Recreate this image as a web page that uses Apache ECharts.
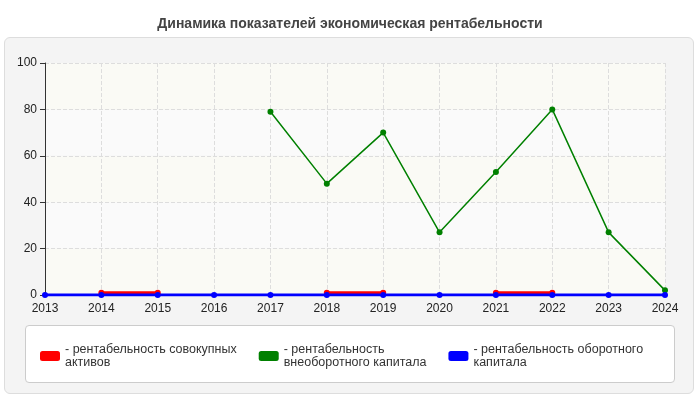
<!DOCTYPE html>
<html>
<head>
<meta charset="utf-8">
<script src="https://cdn.jsdelivr.net/npm/echarts@6/dist/echarts.min.js"></script>
<style>
  body { margin: 0; background: #fff; }
  #panel { position: absolute; left: 4px; top: 37px; width: 688px; height: 355px; background: #f4f4f4; border: 1px solid #ddd; border-radius: 6px; }
  #legbox { position: absolute; left: 25px; top: 325px; width: 648px; height: 56px; background: #fff; border: 1px solid #ccc; border-radius: 4px; }
  #chart { position: absolute; left: 0; top: 0; width: 700px; height: 400px; }
</style>
</head>
<body>
<div id="panel"></div>
<div id="legbox"></div>
<div id="chart"></div>
<script>
var years = ['2013','2014','2015','2016','2017','2018','2019','2020','2021','2022','2023','2024'];
var totalAssets = [null, 1, 1, null, null, 1, 1, null, 1, 1, null, null];
var nonCurrent = [null, null, null, null, 79, 48, 70, 27, 53, 80, 27, 2];
var current = [0, 0, 0, 0, 0, 0, 0, 0, 0, 0, 0, 0];
var names = ['- рентабельность совокупных\nактивов', '- рентабельность\nвнеоборотного капитала', '- рентабельность оборотного\nкапитала'];

var chart = echarts.init(document.getElementById('chart'));
function ser(name, data, color, w) {
  return { name: name, type: 'line', data: data, color: color, symbol: 'circle', symbolSize: 6,
    lineStyle: { width: w, color: color }, itemStyle: { color: color }, connectNulls: false };
}
chart.setOption({
  animation: false,
  title: { text: 'Динамика показателей экономическая рентабельности', left: 'center', top: 12,
    textStyle: { fontFamily: 'Arial', fontSize: 14, fontWeight: 'bold', color: '#444' } },
  grid: { left: 45, right: 35, top: 63, bottom: 105 },
  legend: { left: 35, top: 338, itemWidth: 20, itemHeight: 10, itemGap: 22, icon: 'roundRect',
    textStyle: { fontFamily: 'Arial', fontSize: 12.5, color: '#333', width: 175 } },
  xAxis: { type: 'category', data: years, boundaryGap: false,
    axisLine: { lineStyle: { color: '#333' } }, axisTick: { show: false },
    axisLabel: { fontFamily: 'Arial', fontSize: 12, color: '#222' },
    splitLine: { show: true, lineStyle: { type: 'dashed', color: '#ddd' } } },
  yAxis: { type: 'value', min: 0, max: 100, interval: 20,
    axisLine: { show: true, lineStyle: { color: '#333' } }, axisTick: { show: true },
    axisLabel: { fontFamily: 'Arial', fontSize: 12, color: '#222' },
    splitLine: { lineStyle: { type: 'dashed', color: '#ddd' } },
    splitArea: { show: true, areaStyle: { color: ['#fafaf5', '#fafafa'] } } },
  series: [
    ser(names[0], totalAssets, '#ff0000', 3),
    ser(names[1], nonCurrent, '#008000', 1.5),
    ser(names[2], current, '#0000ff', 3)
  ]
});
</script>
</body>
</html>
